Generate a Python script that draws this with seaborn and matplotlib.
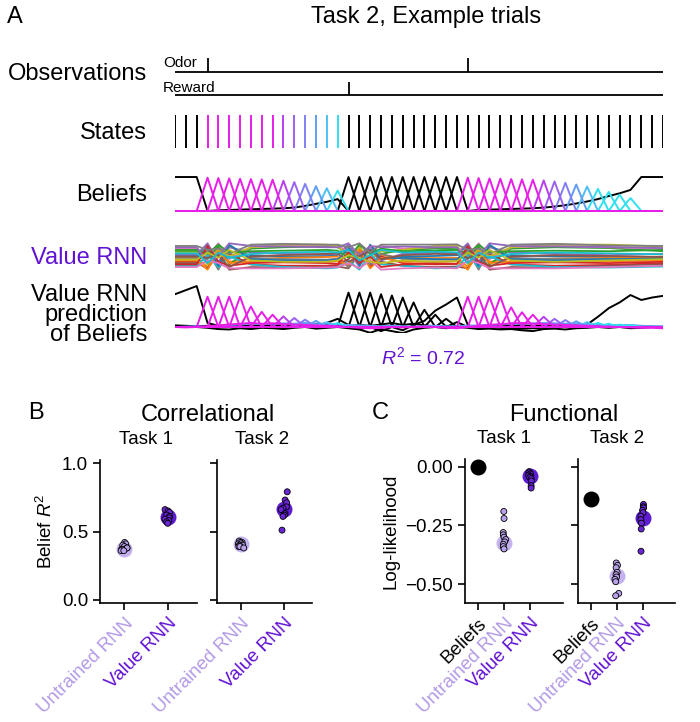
import numpy as np
import pandas as pd
import seaborn as sns
import matplotlib.pyplot as plt
import matplotlib.transforms as mtransforms

sns.set_style("ticks")
plt.rcParams["font.family"] = ["Liberation Sans", "DejaVu Sans"]
plt.rcParams["mathtext.fontset"] = "custom"
plt.rcParams["mathtext.rm"] = "Liberation Sans"
plt.rcParams["mathtext.it"] = "Liberation Sans:italic"
for key in ["text.color", "axes.labelcolor", "xtick.color", "ytick.color", "axes.edgecolor"]:
    plt.rcParams[key] = "black"
np.random.seed(3)  # only for the horizontal jitter of the dots

PURPLE = "#6112d3"
LIGHT_PURPLE = "#b39be6"

# ---------------- Panel A data ----------------
n_steps = 46
odor_times = [3, 27]
reward_times = [16]
# true state per time step: -1 = ITI / post-reward (black), else ISI state index
true_states = [-1, -1, -1, 0, 1, 2, 3, 4, 5, 6, 7, 8, 9, 10, 11, 12] + [-1] * 30

isi_colors = ["#e81de8"] * 7 + ["#b83ff0", "#9a62f2", "#8080f2", "#5f9ef4", "#4dbff2",
                                "#2fe0f0", "#2fe0f0", "#2fe0f0", "#2fe0f0"]

# beliefs
iti_belief = [1, 1, 1, 0.0, 0.02, 0.03, 0.04, 0.05, 0.06, 0.07,
              0.08, 0.1, 0.15, 0.21, 0.27, 0.35, 0, 0, 0, 0,
              0, 0, 0, 0, 0, 0, 0, 0, 0.03, 0.04,
              0.05, 0.06, 0.07, 0.08, 0.1, 0.13, 0.17, 0.22, 0.28, 0.35,
              0.44, 0.52, 0.62, 1, 1, 1]
reward_state_peaks = [1.0] * 11
isi_peaks_trial1 = [0.98, 0.97, 0.96, 0.95, 0.94, 0.93, 0.92, 0.89, 0.85, 0.8, 0.73, 0.67, 0.6]
isi_peaks_trial2 = [0.98, 0.97, 0.96, 0.95, 0.94, 0.93, 0.92, 0.9, 0.87, 0.83, 0.78, 0.72,
                    0.65, 0.56, 0.48, 0.38]

# Value RNN unit activity (0-100), at knot times
rnn_knot_times = [0, 2, 3, 4, 5, 7, 10, 14, 15, 16, 17, 18, 19, 21, 24, 26, 27, 28, 29, 31, 35, 40, 45]
rnn_units = [
    [60, 60, 95, 20, 70, 55, 50, 52, 55, 90, 30, 80, 45, 50, 52, 55, 95, 20, 70, 55, 50, 48, 45],
    [45, 45, 10, 85, 30, 40, 45, 48, 50, 15, 80, 25, 55, 45, 44, 45, 10, 85, 30, 40, 42, 45, 50],
    [70, 70, 40, 90, 20, 80, 85, 88, 85, 60, 20, 90, 60, 75, 80, 78, 40, 90, 20, 80, 85, 82, 70],
    [30, 30, 80, 5, 60, 20, 15, 15, 18, 40, 90, 10, 50, 25, 20, 22, 80, 5, 60, 20, 15, 18, 25],
    [55, 55, 100, 30, 85, 65, 60, 58, 60, 95, 40, 70, 35, 60, 65, 62, 100, 30, 85, 65, 60, 55, 60],
    [25, 25, 5, 60, 0, 10, 8, 10, 12, 5, 60, 20, 30, 15, 10, 12, 5, 60, 0, 10, 8, 15, 20],
    [80, 80, 50, 100, 40, 85, 90, 92, 90, 70, 10, 85, 90, 80, 85, 88, 50, 100, 40, 85, 90, 85, 80],
    [40, 40, 70, 0, 90, 45, 40, 38, 42, 10, 70, 20, 60, 40, 38, 40, 70, 0, 90, 45, 40, 42, 38],
    [65, 65, 20, 75, 50, 85, 95, 95, 90, 50, 85, 40, 70, 75, 90, 92, 20, 75, 50, 85, 95, 95, 88],
    [15, 15, 55, 10, 50, 20, 10, 5, 8, 35, 0, 60, 20, 15, 5, 8, 55, 10, 50, 20, 10, 8, 12],
    [50, 50, 85, 15, 95, 40, 35, 35, 38, 80, 15, 95, 40, 45, 40, 38, 85, 15, 95, 40, 35, 40, 42],
    [35, 35, 0, 70, 25, 30, 28, 30, 32, 20, 75, 5, 45, 30, 30, 32, 0, 70, 25, 30, 28, 32, 35],
    [75, 75, 60, 95, 65, 70, 72, 75, 72, 45, 95, 60, 80, 70, 72, 75, 60, 95, 65, 70, 72, 70, 75],
    [20, 20, 90, 30, 15, 25, 28, 25, 22, 65, 25, 50, 10, 20, 25, 22, 90, 30, 15, 25, 28, 25, 30],
    [85, 85, 30, 50, 100, 90, 88, 85, 85, 100, 55, 90, 85, 88, 85, 85, 30, 50, 100, 90, 88, 86, 82],
    [50, 50, 45, 55, 10, 50, 55, 60, 62, 30, 50, 75, 40, 55, 60, 58, 45, 55, 10, 50, 55, 52, 48],
    [10, 10, 35, 25, 5, 5, 5, 8, 10, 25, 5, 35, 0, 5, 8, 5, 35, 25, 5, 5, 5, 10, 15],
    [90, 90, 75, 80, 60, 95, 98, 95, 95, 85, 100, 65, 95, 95, 95, 96, 75, 80, 60, 95, 98, 92, 90],
    [38, 38, 65, 45, 75, 35, 30, 30, 35, 55, 45, 30, 25, 35, 30, 32, 65, 45, 75, 35, 30, 35, 40],
    [62, 62, 25, 65, 45, 60, 65, 68, 65, 75, 35, 55, 75, 65, 68, 66, 25, 65, 45, 60, 65, 62, 58],
]

# Value RNN prediction of beliefs
pred_iti = [0.8, 0.9, 1.0, 0.1, 0.03, 0.0, -0.02, 0.0, 0.02, 0.0,
            -0.02, 0.0, 0.02, 0.04, 0.1, 0.2, 0.05, -0.05, 0.0, -0.1,
            0.0, -0.08, 0.05, 0.15, 0.4, 0.55, 0.72, 0.05, -0.05, 0.0,
            -0.02, -0.05, -0.04, -0.03, -0.02, 0.0, 0.02, 0.03, 0.06, 0.25,
            0.46, 0.6, 0.78, 0.66, 0.72, 0.76]
pred_reward_peaks = [0.84, 0.84, 0.84, 0.8, 0.77, 0.72, 0.6, 0.42, 0.3, 0.2, 0.12]
pred_isi_trial1 = [0.74, 0.74, 0.74, 0.74, 0.5, 0.37, 0.3, 0.26, 0.22, 0.18, 0.15, 0.12, 0.1]
pred_isi_trial2 = [0.74, 0.74, 0.74, 0.74, 0.48, 0.36, 0.3, 0.25, 0.2, 0.17, 0.14, 0.12,
                   0.1, 0.08, 0.06, 0.05]
pred_wobble_black = [
    [0.0, 0.0, 0.0, -0.02, -0.05, -0.06, -0.03, -0.05, -0.02, -0.03,
     -0.05, -0.02, 0.0, -0.04, -0.02, 0.0, -0.03, -0.06, -0.14, -0.05,
     -0.1, -0.15, -0.06, -0.02, 0.0, -0.03, 0.0, -0.02, -0.05, -0.04,
     -0.06, -0.05, -0.08, -0.1, -0.05, -0.04, -0.06, -0.03, -0.02, 0.0,
     -0.02, 0.0, -0.03, -0.02, 0.0, -0.01],
    [0.04, 0.03, 0.02, 0.03, 0.02, 0.04, 0.02, 0.05, 0.03, 0.05,
     0.04, 0.06, 0.05, 0.08, 0.06, 0.04, 0.02, 0.05, 0.03, 0.06,
     0.1, 0.05, 0.08, 0.04, 0.02, 0.03, 0.01, 0.03, 0.02, 0.04,
     0.02, 0.03, 0.05, 0.02, 0.04, 0.03, 0.02, 0.04, 0.03, 0.02,
     0.03, 0.02, 0.01, 0.02, 0.01, 0.0],
]
pred_wobble_blue = [0.0, 0.01, 0.02, 0.0, 0.03, 0.05, 0.06, 0.08, 0.07, 0.08,
                    0.09, 0.08, 0.1, 0.07, 0.08, 0.06, 0.05, 0.04, 0.03, 0.02,
                    0.03, 0.02, 0.01, 0.02, 0.03, 0.02, 0.02, 0.03, 0.04, 0.05,
                    0.06, 0.08, 0.08, 0.09, 0.1, 0.09, 0.08, 0.08, 0.07, 0.06,
                    0.05, 0.04, 0.05, 0.03, 0.02, 0.02]
pred_wobble_magenta = [0.0, -0.01, 0.0, 0.02, 0.04, 0.06, 0.08, 0.1, 0.08, 0.09,
                       0.07, 0.06, 0.05, 0.04, 0.03, 0.02, 0.0, -0.02, -0.03, -0.02,
                       0.0, -0.01, 0.0, 0.01, 0.0, -0.02, -0.03, 0.0, 0.03, 0.05,
                       0.07, 0.09, 0.1, 0.08, 0.07, 0.06, 0.05, 0.04, 0.03, 0.02,
                       0.01, 0.0, -0.01, -0.02, -0.02, -0.03]

# ---------------- Panels B / C data ----------------
corr_untrained = {"Task 1": [0.42, 0.41, 0.40, 0.39, 0.38, 0.38, 0.37, 0.37, 0.36, 0.36],
                  "Task 2": [0.43, 0.42, 0.42, 0.41, 0.41, 0.40, 0.40, 0.39, 0.39, 0.38]}
corr_value = {"Task 1": [0.66, 0.65, 0.64, 0.62, 0.61, 0.60, 0.59, 0.58, 0.57, 0.56],
              "Task 2": [0.79, 0.73, 0.71, 0.68, 0.67, 0.66, 0.63, 0.62, 0.61, 0.51]}
corr_summary = {"Task 1": {"Untrained RNN": 0.37, "Value RNN": 0.605},
                "Task 2": {"Untrained RNN": 0.41, "Value RNN": 0.666}}

func_untrained = {"Task 1": [-0.19, -0.22, -0.28, -0.29, -0.30, -0.31, -0.32, -0.33, -0.34, -0.35],
                  "Task 2": [-0.41, -0.42, -0.43, -0.45, -0.46, -0.47, -0.48, -0.49, -0.54, -0.55]}
func_value = {"Task 1": [-0.02, -0.025, -0.03, -0.035, -0.04, -0.045, -0.05, -0.06, -0.08, -0.09],
              "Task 2": [-0.16, -0.17, -0.175, -0.185, -0.195, -0.21, -0.225, -0.24, -0.265, -0.36]}
func_summary = {"Task 1": {"Beliefs": 0.0, "Untrained RNN": -0.323, "Value RNN": -0.04},
                "Task 2": {"Beliefs": -0.137, "Untrained RNN": -0.467, "Value RNN": -0.217}}

label_colors = {"Beliefs": "black", "Untrained RNN": LIGHT_PURPLE, "Value RNN": PURPLE}
small_pal = {"Untrained RNN": "#b9a2ea", "Value RNN": "#6a26d6"}
big_pal = {"Beliefs": "black", "Untrained RNN": "#c4b2ef", "Value RNN": "#5e1cd0"}

# ---------------- figure ----------------
W, H = 700, 722
fig = plt.figure(figsize=(W / 100, H / 100), dpi=100)


def rect(x0, y0, x1, y1):
    return [x0 / W, 1 - y1 / H, (x1 - x0) / W, (y1 - y0) / H]


def ftext(x, y, s, **kw):
    fig.text(x / W, 1 - y / H, s, **kw)


t = np.arange(n_steps)
XMAX = n_steps - 1
LW = 1.4

# Observations
for box, times, name, ny in [((175, 58, 663, 72), odor_times, "Odor", 63),
                             ((175, 82, 663, 95), reward_times, "Reward", 88)]:
    ax = fig.add_axes(rect(*box))
    ax.hlines(0, 0, XMAX, color="black", lw=1.3, clip_on=False)
    ax.vlines(times, 0, 1, color="black", lw=1.3, clip_on=False)
    ax.set_xlim(0, XMAX)
    ax.set_ylim(0, 1)
    ax.axis("off")
    ftext(163, ny, name, fontsize=11, ha="left", va="center")

# States
ax = fig.add_axes(rect(175, 115, 663, 148))
state_line_colors = ["black" if s < 0 else isi_colors[s] for s in true_states]
ax.vlines(t, 0, 1, colors=state_line_colors, lw=LW)
ax.set_xlim(0, XMAX)
ax.set_ylim(0, 1)
ax.axis("off")


def peak_series(entries):
    s = np.zeros(n_steps)
    for tt, h in entries:
        if tt < n_steps:
            s[tt] = h
    return s


# Beliefs
ax = fig.add_axes(rect(175, 176, 663, 212))
sns.lineplot(x=t, y=iti_belief, color="black", lw=LW, ax=ax)
for k, h in enumerate(reward_state_peaks):
    sns.lineplot(x=t, y=peak_series([(reward_times[0] + k, h)]), color="black", lw=LW, ax=ax)
for j in reversed(range(len(isi_peaks_trial2))):
    entries = [(odor_times[1] + j, isi_peaks_trial2[j])]
    if j < len(isi_peaks_trial1):
        entries.append((odor_times[0] + j, isi_peaks_trial1[j]))
    sns.lineplot(x=t, y=peak_series(entries), color=isi_colors[j], lw=LW, ax=ax)
ax.set_xlim(0, XMAX)
ax.set_ylim(-0.03, 1.03)
ax.axis("off")

# Value RNN
ax = fig.add_axes(rect(175, 242, 663, 271))
tab10 = sns.color_palette("tab10")
for i, vals in enumerate(rnn_units):
    sns.lineplot(x=rnn_knot_times, y=vals, color=tab10[i % 10], lw=1.3, ax=ax)
ax.set_xlim(0, XMAX)
ax.set_ylim(-5, 105)
ax.axis("off")

# Value RNN prediction of beliefs
ax = fig.add_axes(rect(175, 284, 663, 333))
sns.lineplot(x=t, y=pred_iti, color="black", lw=LW, ax=ax)
for w in pred_wobble_black:
    sns.lineplot(x=t, y=w, color="black", lw=LW, ax=ax)
for k, h in enumerate(pred_reward_peaks):
    sns.lineplot(x=t, y=peak_series([(reward_times[0] + k, h)]), color="black", lw=LW, ax=ax)
sns.lineplot(x=t, y=pred_wobble_blue, color="#5f9ef4", lw=LW, ax=ax)
for j in reversed(range(len(pred_isi_trial2))):
    entries = [(odor_times[1] + j, pred_isi_trial2[j])]
    if j < len(pred_isi_trial1):
        entries.append((odor_times[0] + j, pred_isi_trial1[j]))
    sns.lineplot(x=t, y=peak_series(entries), color=isi_colors[j], lw=LW, ax=ax)
sns.lineplot(x=t, y=pred_wobble_magenta, color=isi_colors[0], lw=LW, ax=ax)
ax.set_xlim(0, XMAX)
ax.set_ylim(-0.146, 1.05)
ax.axis("off")

# Panel A texts
ftext(7, 17, "A", fontsize=17, ha="left", va="center")
ftext(426, 17, "Task 2, Example trials", fontsize=17, ha="center", va="center")
ftext(147, 74, "Observations", fontsize=17, ha="right", va="center")
ftext(147, 133, "States", fontsize=17, ha="right", va="center")
ftext(147, 195, "Beliefs", fontsize=17, ha="right", va="center")
ftext(147, 258, "Value RNN", fontsize=17, ha="right", va="center", color=PURPLE)
ftext(147, 315, "Value RNN\nprediction\nof Beliefs", fontsize=17, ha="right", va="center",
      linespacing=0.88)
ftext(423, 357, "$R^2$ = 0.72", fontsize=14, ha="center", va="center", color=PURPLE)


# ---------------- Panels B / C ----------------
def dot_panel(ax, order, untrained, value, summary, ylim, yticks, xlim, task, show_ylabels):
    pts = pd.DataFrame({"model": ["Untrained RNN"] * len(untrained) + ["Value RNN"] * len(value),
                        "value": untrained + value})
    summ = pd.DataFrame({"model": list(summary.keys()), "value": list(summary.values())})
    sns.stripplot(data=summ, x="model", y="value", hue="model", order=order, palette=big_pal,
                  jitter=False, size=11.5, linewidth=0, legend=False, ax=ax)
    sns.stripplot(data=pts, x="model", y="value", hue="model", order=order, palette=small_pal,
                  jitter=0.08, size=4.3, edgecolor="black", linewidth=0.6, legend=False, ax=ax)
    ax.set_xlim(*xlim)
    ax.set_ylim(*ylim)
    ax.set_yticks(yticks)
    ax.set_xticks(range(len(order)))
    ax.set_xticklabels(order, rotation=45, ha="right", va="top", rotation_mode="anchor")
    for lab in ax.get_xticklabels():
        lab.set_color(label_colors[lab.get_text()])
    ax.set_xlabel("")
    ax.set_ylabel("")
    if not show_ylabels:
        ax.set_yticklabels([])
    ax.tick_params(direction="out", length=5, width=1.2, labelsize=13.5)
    for sp in ax.spines.values():
        sp.set_linewidth(1.2)
    sns.despine(ax=ax)
    trans = mtransforms.blended_transform_factory(ax.transData, ax.transAxes)
    ax.text((len(order) - 1) / 2, 1.14, task, transform=trans, ha="center", va="center",
            fontsize=13.5)


b_order = ["Untrained RNN", "Value RNN"]
c_order = ["Beliefs", "Untrained RNN", "Value RNN"]

axB1 = fig.add_axes(rect(100, 460, 197, 603))
axB2 = fig.add_axes(rect(217, 460, 312, 603))
axC1 = fig.add_axes(rect(465, 459, 563, 603))
axC2 = fig.add_axes(rect(578, 459, 675, 603))

for ax, task, show in [(axB1, "Task 1", True), (axB2, "Task 2", False)]:
    dot_panel(ax, b_order, corr_untrained[task], corr_value[task], corr_summary[task],
              (-0.022, 1.022), [0, 0.5, 1.0], (-0.55, 1.65), task, show)
axB1.set_ylabel("Belief $R^2$", fontsize=13.5)

for ax, task, show in [(axC1, "Task 1", True), (axC2, "Task 2", False)]:
    dot_panel(ax, c_order, func_untrained[task], func_value[task], func_summary[task],
              (-0.581, 0.034), [-0.5, -0.25, 0.0], (-0.5, 3.25), task, show)
axC1.set_ylabel("Log-likelihood", fontsize=13.5)

ftext(28, 413, "B", fontsize=17, ha="left", va="center")
ftext(208, 415, "Correlational", fontsize=17, ha="center", va="center")
ftext(372, 413, "C", fontsize=17, ha="left", va="center")
ftext(564, 415, "Functional", fontsize=17, ha="center", va="center")

fig.savefig("out.png", dpi=100)
